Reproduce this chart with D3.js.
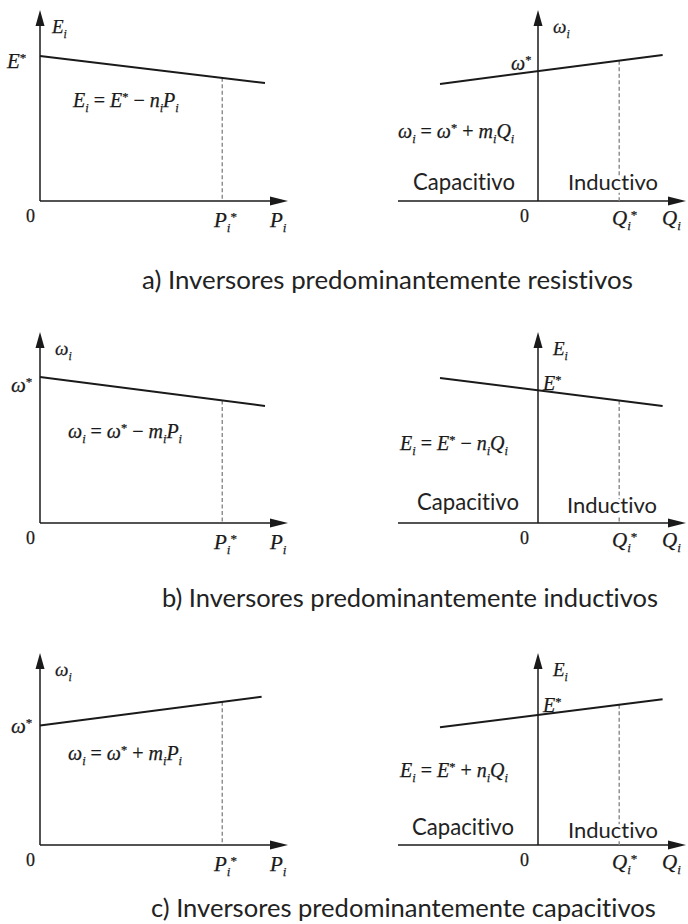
<!DOCTYPE html>
<html>
<head>
<meta charset="utf-8">
<script src="https://cdn.jsdelivr.net/npm/d3@7"></script>
<style>
  html, body { margin: 0; padding: 0; background: #fff; }
  svg { display: block; }
  text { font-variant-ligatures: none; font-feature-settings: "liga" 0; }
</style>
</head>
<body>
<div id="chart"></div>
<script>
// Droop characteristics of parallel inverters, three cases (a, b, c).
const captions = [
  "a) Inversores predominantemente resistivos",
  "b) Inversores predominantemente inductivos",
  "c) Inversores predominantemente capacitivos"
];
// Left panels: quantity vs active power P_i
const leftYLabel = ["E_i", "ω_i", "ω_i"];
const leftStarLabel = ["E^*", "ω^*", "ω^*"];
const leftEquation = ["E_i = E^* − n_iP_i", "ω_i = ω^* − m_iP_i", "ω_i = ω^* + m_iP_i"];
const leftP = [0, 1];                       // P range covered by the droop line
const leftEndP = [1.0, 1.0, 0.985];
const leftAtZero = [0.759, 0.764, 0.623];   // value at P = 0 (fraction of axis height)
const leftAtEnd = [0.618, 0.613, 0.772];    // value at the end of the line
const pStar = 0.81;
// Right panels: quantity vs reactive power Q_i
const rightYLabel = ["ω_i", "E_i", "E_i"];
const rightStarLabel = ["ω^*", "E^*", "E^*"];
const rightEquation = ["ω_i = ω^* + m_iQ_i", "E_i = E^* − n_iQ_i", "E_i = E^* + n_iQ_i"];
const rightQ = [-0.70, 0.89];               // Q range covered by the droop line
const rightAtStart = [0.613, 0.759, 0.613];
const rightAtEnd = [0.764, 0.613, 0.759];
const qStar = 0.58;
const regionLabels = ["Capacitivo", "Inductivo"];

const W = 688, H = 924;
const svg = d3.select("#chart").append("svg").attr("width", W).attr("height", H);

// layout per row
const axisY = [201, 523, 845];
const topY = [10, 332, 653];
const leftStarPos = [[7, 68], [11, 392], [11, 733]];
const leftEqPos = [[73, 107], [68, 438], [68, 760]];
const rightStarPos = [[511, 70], [543, 390], [543, 712]];
const rightEqPos = [[398, 138], [400, 450], [400, 777]];
const capPos = [[413, 190], [417, 510], [412, 835]];
const indPos = [[568, 190], [567, 513], [568, 838]];
const captionPos = [[142, 289], [162, 607], [151, 917]];
const captionW = [491, 496, 505];

const serif = "'Liberation Serif', 'Times New Roman', serif";
const sans = "Lato, 'Open Sans', sans-serif";
const ink = "#1a1a1a";

// Inline math: letters italic, "_x" subscript, "^x" superscript
function addMath(g, str, x, y, size, anchor) {
  const t = g.append("text").attr("x", x).attr("y", y)
    .attr("font-family", serif).attr("font-size", size)
    .attr("text-anchor", anchor || "start").attr("fill", ink)
    .attr("stroke", ink).attr("stroke-width", 0.25)
    .style("white-space", "pre");
  let shift = 0;
  for (let k = 0; k < str.length; k++) {
    let c = str[k], s = 0, sz = size;
    if (c === "_" || c === "^") {
      const mode = c; c = str[++k];
      if (mode === "_") { s = size * 0.25; sz = size * 0.62; }
      else { s = -size * 0.30; sz = size * 0.62; }
    }
    const ts = t.append("tspan").attr("dy", s - shift).attr("font-size", sz).text(c);
    if (/[A-Za-zω]/.test(c)) ts.attr("font-style", "italic");
    shift = s;
  }
  return t;
}

function fitText(sel, width) {
  const w0 = sel.node().getComputedTextLength();
  const fs = parseFloat(sel.attr("font-size"));
  sel.attr("font-size", fs * width / w0);
}

function arrowUp(g, x, y) {
  g.append("path").attr("d", `M${x},${y} L${x - 4.5},${y + 16} L${x + 4.5},${y + 16} Z`).attr("fill", ink);
}
function arrowRight(g, x, y) {
  g.append("path").attr("d", `M${x},${y} L${x - 18},${y - 4.5} L${x - 18},${y + 4.5} Z`).attr("fill", ink);
}

const line = d3.line();

for (let r = 0; r < 3; r++) {
  const ay = axisY[r], ty = topY[r];
  const y = d3.scaleLinear().domain([0, 1]).range([ay, ty]);

  // ---------- left panel ----------
  const gl = svg.append("g");
  const xl = d3.scaleLinear().domain([0, 1]).range([40, 265]);
  gl.append("line").attr("x1", xl(0)).attr("x2", xl(0)).attr("y1", ay).attr("y2", ty + 8)
    .attr("stroke", ink).attr("stroke-width", 1.5);
  gl.append("line").attr("x1", xl(0)).attr("x2", 280).attr("y1", ay).attr("y2", ay)
    .attr("stroke", ink).attr("stroke-width", 1.5);
  arrowUp(gl, xl(0), ty);
  arrowRight(gl, 288, ay);

  const lv = d3.scaleLinear().domain([leftP[0], leftEndP[r]]).range([leftAtZero[r], leftAtEnd[r]]);
  gl.append("line")
    .attr("x1", xl(pStar)).attr("x2", xl(pStar))
    .attr("y1", y(lv(pStar))).attr("y2", ay)
    .attr("stroke", "#8a8a8a").attr("stroke-width", 1.4).attr("stroke-dasharray", "4,2.5");
  gl.append("path")
    .attr("d", line([[xl(leftP[0]), y(leftAtZero[r])], [xl(leftEndP[r]), y(leftAtEnd[r])]]))
    .attr("stroke", ink).attr("stroke-width", 2).attr("fill", "none");

  addMath(gl, leftYLabel[r], r === 0 ? 52 : 55, ty + 23, 19);
  addMath(gl, leftStarLabel[r], leftStarPos[r][0], leftStarPos[r][1], 21);
  addMath(gl, leftEquation[r], leftEqPos[r][0], leftEqPos[r][1], 20);
  addMath(gl, "0", 26, ay + 21, 18);
  addMath(gl, "P_i^*", 214, ay + 26, 21);
  addMath(gl, "P_i", 270, ay + 26, 21);

  // ---------- right panel ----------
  const gr = svg.append("g");
  const xr = d3.scaleLinear().domain([-1, 1]).range([398, 678]);
  gr.append("line").attr("x1", xr(0)).attr("x2", xr(0)).attr("y1", ay).attr("y2", ty + 8)
    .attr("stroke", ink).attr("stroke-width", 1.5);
  gr.append("line").attr("x1", xr(-1)).attr("x2", 678).attr("y1", ay).attr("y2", ay)
    .attr("stroke", ink).attr("stroke-width", 1.5);
  arrowUp(gr, xr(0), ty);
  arrowRight(gr, 686, ay);

  const rv = d3.scaleLinear().domain(rightQ).range([rightAtStart[r], rightAtEnd[r]]);
  gr.append("line")
    .attr("x1", xr(qStar)).attr("x2", xr(qStar))
    .attr("y1", y(rv(qStar))).attr("y2", ay)
    .attr("stroke", "#8a8a8a").attr("stroke-width", 1.4).attr("stroke-dasharray", "4,2.5");
  gr.append("path")
    .attr("d", line([[xr(rightQ[0]), y(rightAtStart[r])], [xr(rightQ[1]), y(rightAtEnd[r])]]))
    .attr("stroke", ink).attr("stroke-width", 2).attr("fill", "none");

  addMath(gr, rightYLabel[r], 553, ty + 23, 19);
  addMath(gr, rightStarLabel[r], rightStarPos[r][0], rightStarPos[r][1], 20);
  addMath(gr, rightEquation[r], rightEqPos[r][0], rightEqPos[r][1], 20);
  addMath(gr, "0", 520, ay + 21, 18);
  addMath(gr, "Q_i^*", 612, ay + 24, 21);
  addMath(gr, "Q_i", 662, ay + 24, 21);

  const cap = gr.append("text").attr("x", capPos[r][0]).attr("y", capPos[r][1])
    .attr("font-family", sans).attr("font-size", 20).attr("fill", "#222").text(regionLabels[0]);
  fitText(cap, 102);
  const ind = gr.append("text").attr("x", indPos[r][0]).attr("y", indPos[r][1])
    .attr("font-family", sans).attr("font-size", 20).attr("fill", "#222")
    .attr("stroke", "#fff").attr("stroke-width", 6).attr("paint-order", "stroke")
    .text(regionLabels[1]);
  fitText(ind, 90);

  // ---------- caption ----------
  const c = svg.append("text").attr("x", captionPos[r][0]).attr("y", captionPos[r][1])
    .attr("font-family", sans).attr("font-size", 22).attr("fill", "#222")
    .style("white-space", "pre").text(captions[r]);
  fitText(c, captionW[r]);
}
</script>
</body>
</html>
